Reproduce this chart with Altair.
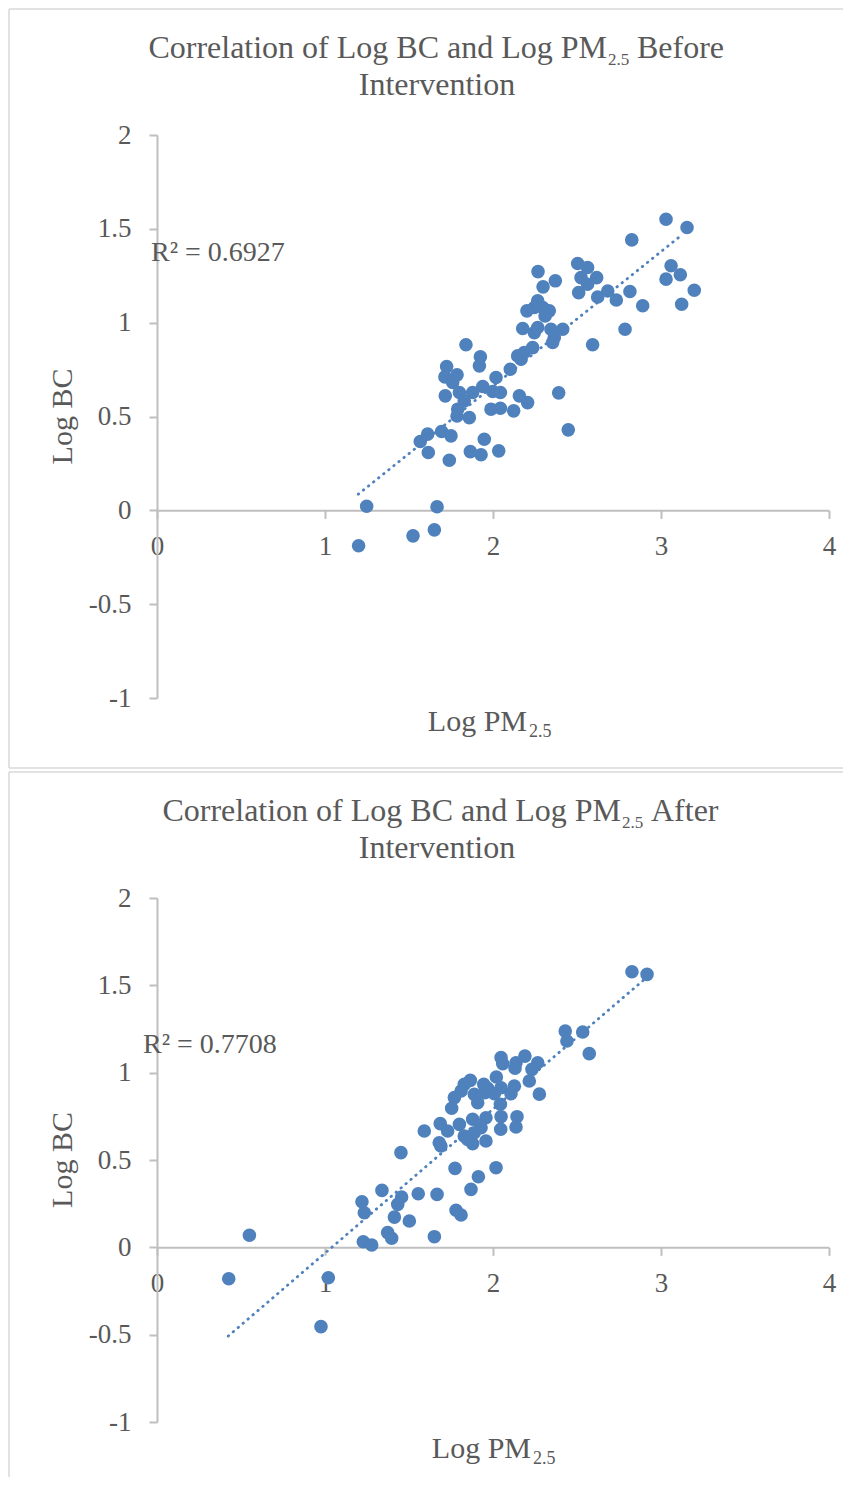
import altair as alt
import pandas as pd

FONT = "Liberation Serif"
TXT = "#595959"
BLUE = "#4f81bd"
AXIS = "#bfbfbf"
BORDER = "#d9d9d9"

# ---- data ----
before_x = [3.030, 3.155, 2.826, 2.268, 2.504, 2.563, 2.524, 2.617, 2.563, 2.371,
            2.298, 2.510, 2.623, 2.683, 2.734, 2.815, 2.891, 3.060, 3.115, 3.030,
            3.198, 3.123, 2.786, 2.593, 2.266, 2.246, 2.202, 2.296, 2.335, 2.310,
            2.177, 2.246, 2.345, 2.415, 2.365, 2.355, 2.266, 2.236, 2.186, 2.147,
            2.103, 1.839, 1.925, 1.919, 1.724, 1.714, 1.786, 1.760, 2.018, 1.716,
            1.800, 1.879, 1.939, 1.998, 2.044, 1.829, 1.790, 1.786, 1.859, 1.988,
            2.044, 2.123, 2.157, 2.206, 2.391, 2.448, 1.567, 1.611, 1.615, 1.694,
            1.750, 1.740, 1.865, 1.948, 1.929, 2.034, 1.248, 1.667, 1.200, 1.524,
            1.651, 2.167]
before_y = [1.551, 1.507, 1.441, 1.272, 1.315, 1.294, 1.240, 1.240, 1.205, 1.223,
            1.191, 1.160, 1.137, 1.169, 1.121, 1.166, 1.090, 1.303, 1.255, 1.232,
            1.173, 1.098, 0.965, 0.882, 1.116, 1.081, 1.063, 1.081, 1.063, 1.036,
            0.969, 0.947, 0.965, 0.965, 0.921, 0.894, 0.974, 0.867, 0.841, 0.823,
            0.752, 0.882, 0.818, 0.770, 0.766, 0.711, 0.722, 0.681, 0.708, 0.610,
            0.628, 0.628, 0.660, 0.633, 0.628, 0.583, 0.539, 0.503, 0.494, 0.539,
            0.544, 0.530, 0.610, 0.574, 0.626, 0.429, 0.367, 0.406, 0.308, 0.420,
            0.397, 0.267, 0.313, 0.379, 0.296, 0.317, 0.022, 0.019, -0.189, -0.136,
            -0.104, 0.805]

after_x = [2.827, 2.917, 2.430, 2.534, 2.440, 2.573, 2.048, 2.058, 2.190, 2.137,
           2.266, 2.131, 2.232, 2.216, 2.020, 1.865, 1.945, 1.810, 1.770, 1.889,
           1.952, 2.048, 2.127, 2.107, 2.008, 2.276, 2.044, 1.909, 1.754, 2.048,
           2.143, 2.137, 2.046, 1.958, 1.879, 1.800, 1.686, 1.730, 1.591, 1.829,
           1.889, 1.958, 1.879, 1.929, 1.849, 1.680, 1.690, 1.452, 1.774, 2.018,
           1.913, 1.869, 1.339, 1.220, 1.234, 1.456, 1.433, 1.413, 1.555, 1.502,
           1.667, 1.780, 1.810, 1.373, 1.397, 1.228, 1.278, 1.651, 0.550, 0.427,
           1.020, 0.976, 1.968, 1.829]
after_y = [1.578, 1.563, 1.238, 1.233, 1.181, 1.109, 1.086, 1.051, 1.095, 1.057,
           1.057, 1.025, 1.019, 0.952, 0.975, 0.956, 0.933, 0.895, 0.857, 0.876,
           0.885, 0.914, 0.923, 0.879, 0.879, 0.877, 0.819, 0.828, 0.796, 0.748,
           0.748, 0.689, 0.676, 0.742, 0.733, 0.704, 0.708, 0.666, 0.666, 0.637,
           0.656, 0.609, 0.593, 0.685, 0.618, 0.599, 0.580, 0.542, 0.452, 0.456,
           0.404, 0.332, 0.326, 0.261, 0.198, 0.288, 0.246, 0.173, 0.307, 0.151,
           0.303, 0.212, 0.185, 0.084, 0.052, 0.032, 0.013, 0.061, 0.069, -0.180,
           -0.174, -0.454, 0.910, 0.933]

trend_before_x = [1.198, 3.129]
trend_before_y = [0.086, 1.471]
trend_after_x = [0.424, 2.901]
trend_after_y = [-0.508, 1.534]

x_ticks = [0, 1, 2, 3, 4]
y_ticks = [-1, -0.5, 0, 0.5, 1, 1.5, 2]

title_main = "Correlation of Log BC and Log PM"
title_sub = "2.5"
title_suffix = ["Before", "After"]
title_line2 = "Intervention"
x_title = "Log PM"
y_title = "Log BC"
r2_labels = ["R\u00b2 = 0.6927", "R\u00b2 = 0.7708"]

W = 672
one = pd.DataFrame({"k": [0]})


def txt(t, x, y, size, align="left", baseline="alphabetic", angle=0):
    return alt.Chart(one).mark_text(
        text=t, font=FONT, fontSize=size, color=TXT, align=align,
        baseline=baseline, angle=angle
    ).encode(x=alt.value(x), y=alt.value(y))


def hrule(x1, x2, y):
    return alt.Chart(one).mark_rule(color=BORDER, strokeWidth=1.5).encode(
        x=alt.value(x1), x2=alt.value(x2), y=alt.value(y))


def vrule(x, y1, y2):
    return alt.Chart(one).mark_rule(color=BORDER, strokeWidth=1.5).encode(
        x=alt.value(x), y=alt.value(y1), y2=alt.value(y2))


def panel(px, py, tx, ty, suffix, r2, h, main_end, r2_pos, xt_end, xt_base,
          bottom_border):
    axis_common = dict(
        title=None, grid=False, tickSize=8, tickWidth=2, tickColor=AXIS,
        domainColor=AXIS, domainWidth=2, labelFont=FONT, labelFontSize=27,
        labelColor=TXT, labelFlush=False, labelOverlap=False, format="~g",
        labelExpr="replace(datum.label, '\u2212', '-')",
    )
    xenc = alt.X("x:Q", scale=alt.Scale(domain=[0, 4], nice=False, zero=False),
                 axis=alt.Axis(values=x_ticks, offset=-h / 3.0, labelPadding=15,
                               **axis_common))
    yenc = alt.Y("y:Q", scale=alt.Scale(domain=[-1, 2], nice=False, zero=False),
                 axis=alt.Axis(values=y_ticks, labelPadding=18, **axis_common))

    pts = alt.Chart(pd.DataFrame({"x": px, "y": py})).mark_circle(
        size=185, color=BLUE, opacity=1).encode(x=xenc, y=yenc)
    trend = alt.Chart(pd.DataFrame({"x": tx, "y": ty})).mark_line(
        color=BLUE, strokeWidth=2.8, strokeDash=[0.5, 6], strokeCap="round"
    ).encode(x=xenc, y=yenc)

    layers = [
        hrule(-148, 686, -126),
        vrule(-148, -126, h + (70 if bottom_border else 55)),
    ]
    if bottom_border:
        layers.append(hrule(-148, 686, h + 70))
    layers += [
        pts, trend,
        txt(title_main, main_end, -77, 32, align="right"),
        txt(title_sub, main_end + 1, -70, 17),
        txt(suffix, main_end + 30, -77, 32),
        txt(title_line2, 280, -40, 32, align="center"),
        txt(x_title, xt_end, h + xt_base, 30, align="right"),
        txt(title_sub, xt_end + 2, h + xt_base + 6, 18),
        txt(y_title, -94, h / 2.0, 30, align="center", baseline="middle", angle=270),
        txt(r2, r2_pos[0], r2_pos[1], 28, baseline="middle"),
    ]
    return alt.layer(*layers).properties(width=W, height=h)


top = panel(before_x, before_y, trend_before_x, trend_before_y, title_suffix[0],
            r2_labels[0], 563, 450, (-6, 118), 370, 33, True)
bottom = panel(after_x, after_y, trend_after_x, trend_after_y, title_suffix[1],
               r2_labels[1], 524, 464, (-14, 147), 374, 36, False)

chart = alt.vconcat(top, bottom, spacing=2).properties(
    padding=0, background="white"
).configure_view(stroke=None)

chart.save("out.html", embed_options={"renderer": "svg", "actions": False})
